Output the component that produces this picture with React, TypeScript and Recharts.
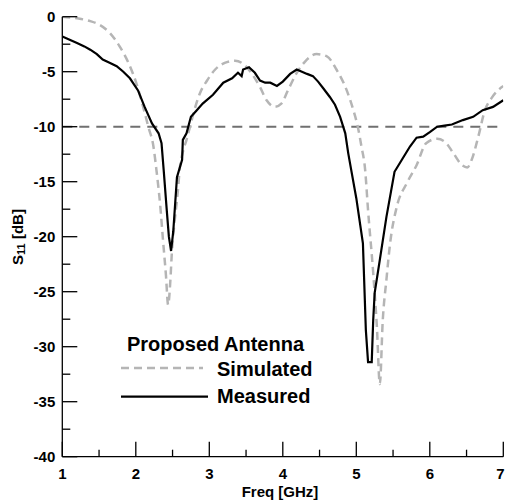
import React from "react";
import {
  Label,
  Legend,
  Line,
  LineChart,
  ReferenceLine,
  XAxis,
  YAxis,
} from "recharts";

const FONT = "'Liberation Sans', Arial, sans-serif";

// Simulated S11 (gray dashed)
const simFreq = [
  1.0, 1.2, 1.38, 1.51, 1.65, 1.78, 1.9, 2.01, 2.1, 2.17, 2.24, 2.28, 2.33,
  2.37, 2.41, 2.44, 2.47, 2.49, 2.53, 2.57, 2.6, 2.64, 2.69, 2.76, 2.81, 2.87,
  2.97, 3.08, 3.21, 3.35, 3.48, 3.59, 3.69, 3.78, 3.89, 3.98, 4.07, 4.19, 4.3,
  4.46, 4.6, 4.73, 4.87, 4.96, 5.02, 5.07, 5.12, 5.16, 5.23, 5.28, 5.32, 5.36,
  5.41, 5.46, 5.55, 5.69, 5.82, 5.95, 6.1, 6.21, 6.32, 6.44, 6.51, 6.57, 6.66,
  6.75, 6.84, 6.98, 7.0,
];
const simS11 = [
  0.0, -0.15, -0.4, -0.75, -1.5, -2.7, -4.2, -6.1, -8.2, -10.0, -11.8, -13.9,
  -17.0, -20.3, -23.5, -26.2, -24.0, -21.5, -18.5, -16.0, -13.7, -12.3, -11.2,
  -9.4, -8.2, -7.0, -5.8, -4.8, -4.2, -4.0, -4.4, -5.3, -6.4, -7.6, -8.2, -7.9,
  -6.7, -5.1, -4.1, -3.4, -3.6, -4.8, -6.7, -8.5, -10.0, -11.8, -13.9, -17.6,
  -23.3, -28.2, -33.4, -27.6, -23.9, -20.6, -17.3, -15.1, -13.5, -11.5, -11.1,
  -11.4, -12.4, -13.5, -13.7, -13.0, -10.9, -8.5, -7.4, -6.4, -6.3,
];

// Measured S11 (black solid)
const measFreq = [
  1.0, 1.1, 1.2, 1.3, 1.38, 1.47, 1.55, 1.65, 1.74, 1.83, 1.92, 2.03, 2.12,
  2.22, 2.31, 2.35, 2.38, 2.42, 2.45, 2.48, 2.51, 2.56, 2.63, 2.64, 2.69, 2.75,
  2.83, 2.91, 3.05, 3.19, 3.31, 3.39, 3.44, 3.46, 3.54, 3.62, 3.69, 3.76, 3.83,
  3.92, 4.0, 4.1, 4.19, 4.33, 4.41, 4.48, 4.55, 4.64, 4.71, 4.78, 4.85, 4.89,
  4.93, 5.0, 5.09, 5.13, 5.16, 5.21, 5.23, 5.25, 5.32, 5.41, 5.52, 5.62, 5.73,
  5.82, 5.91, 6.0, 6.1, 6.2, 6.3, 6.45, 6.59, 6.72, 6.86, 7.0,
];
const measS11 = [
  -1.8, -2.1, -2.4, -2.7, -3.0, -3.4, -3.9, -4.2, -4.5, -5.0, -5.6, -6.7, -8.2,
  -9.7, -10.6, -11.5, -14.0, -17.5, -20.0, -21.3, -19.5, -14.6, -13.0, -11.2,
  -10.6, -9.1, -8.5, -7.9, -7.1, -6.0, -5.6, -5.1, -5.4, -4.8, -4.6, -5.1, -5.8,
  -6.0, -6.0, -6.3, -5.9, -5.2, -4.8, -5.2, -5.4, -5.9, -6.5, -7.3, -8.0, -9.1,
  -10.6, -12.4, -13.9, -16.5, -20.6, -28.5, -31.4, -31.4, -27.6, -25.1, -22.1,
  -18.2, -14.1, -13.0, -11.8, -11.0, -10.9, -10.5, -10.0, -9.9, -9.8, -9.4,
  -9.1, -8.5, -8.2, -7.6,
];

const xTicks = [1, 1.5, 2, 2.5, 3, 3.5, 4, 4.5, 5, 5.5, 6, 6.5, 7];
const yTicks = [
  0, -2.5, -5, -7.5, -10, -12.5, -15, -17.5, -20, -22.5, -25, -27.5, -30,
  -32.5, -35, -37.5, -40,
];

const simData = simFreq.map((f, i) => ({ f, s: simS11[i] }));
const measData = measFreq.map((f, i) => ({ f, s: measS11[i] }));

const YTick = (props: any) => {
  const { x, y, payload } = props;
  const v = payload.value;
  const major = v % 5 === 0;
  return (
    <g>
      <line x1={x} x2={x + (major ? 15 : 8)} y1={y} y2={y} stroke="#000" strokeWidth={1.3} />
      {major && (
        <text x={x - 7} y={y} dy="0.36em" textAnchor="end" fontFamily={FONT} fontWeight="bold" fontSize={15} fill="#000">
          {v}
        </text>
      )}
    </g>
  );
};

const XTick = (props: any) => {
  const { x, y, payload } = props;
  const v = payload.value;
  const major = Number.isInteger(v);
  // keep the last label inside the picture
  const tx = v === 7 ? x - 3 : x;
  return (
    <g>
      <line x1={x} x2={x} y1={y} y2={y - (major ? 15 : 7)} stroke="#000" strokeWidth={1.3} />
      {major && (
        <text x={tx} y={y + 22.5} textAnchor="middle" fontFamily={FONT} fontWeight="bold" fontSize={15} fill="#000">
          {v}
        </text>
      )}
    </g>
  );
};

const LegendBox = () => (
  <svg width={210} height={80} style={{ display: "block", overflow: "visible" }}>
    <text x={12} y={21} fontFamily={FONT} fontWeight="bold" fontSize={20} fill="#000">
      Proposed Antenna
    </text>
    <line x1={6} x2={88} y1={38} y2={38} stroke="#b5b5b5" strokeWidth={2.5} strokeDasharray="8 5" />
    <text x={102} y={45.5} fontFamily={FONT} fontWeight="bold" fontSize={20} fill="#000">
      Simulated
    </text>
    <line x1={6} x2={93} y1={66.7} y2={66.7} stroke="#000" strokeWidth={2.2} />
    <text x={102} y={73.3} fontFamily={FONT} fontWeight="bold" fontSize={20} fill="#000">
      Measured
    </text>
  </svg>
);

export default function App() {
  return (
    <div style={{ position: "fixed", left: 0, top: 0, background: "#fff" }}>
      <LineChart
        width={505}
        height={502}
        margin={{ top: 16.7, right: 1.7, left: 0, bottom: 0.3 }}
      >
        <XAxis
          type="number"
          dataKey="f"
          domain={[1, 7]}
          ticks={xTicks}
          interval={0}
          allowDataOverflow
          height={45}
          tickSize={0}
          tickMargin={0}
          tickLine={false}
          axisLine={{ stroke: "#000", strokeWidth: 1.3 }}
          tick={(p: any) => <XTick {...p} />}
        >
          <Label
            content={() => (
              <text x={280} y={497} textAnchor="middle" fontFamily={FONT} fontWeight="bold" fontSize={15} fill="#000">
                Freq [GHz]
              </text>
            )}
          />
        </XAxis>
        <YAxis
          type="number"
          domain={[-40, 0]}
          ticks={yTicks}
          interval={0}
          allowDataOverflow
          width={62.3}
          tickSize={0}
          tickMargin={0}
          tickLine={false}
          axisLine={{ stroke: "#000", strokeWidth: 1.3 }}
          tick={(p: any) => <YTick {...p} />}
        >
          <Label
            content={() => (
              <text
                x={23}
                y={237}
                transform="rotate(-90 23 237)"
                textAnchor="middle"
                fontFamily={FONT}
                fontWeight="bold"
                fontSize={15}
                fill="#000"
              >
                S<tspan fontSize={11} dy={1.5}>11</tspan>
                <tspan dy={-1.5}> [dB]</tspan>
              </text>
            )}
          />
        </YAxis>
        <ReferenceLine y={-10} stroke="#707070" strokeWidth={2} strokeDasharray="10 7" />
        <Line
          data={simData}
          dataKey="s"
          type="monotone"
          stroke="#b5b5b5"
          strokeWidth={2.5}
          strokeDasharray="8 5"
          dot={false}
          activeDot={false}
          isAnimationActive={false}
        />
        <Line
          data={measData}
          dataKey="s"
          type="linear"
          stroke="#000"
          strokeWidth={2.2}
          dot={false}
          activeDot={false}
          isAnimationActive={false}
        />
        <Legend
          layout="horizontal"
          verticalAlign="middle"
          align="center"
          wrapperStyle={{ left: 115, top: 330, width: 210, height: 80 }}
          content={() => <LegendBox />}
        />
      </LineChart>
    </div>
  );
}
